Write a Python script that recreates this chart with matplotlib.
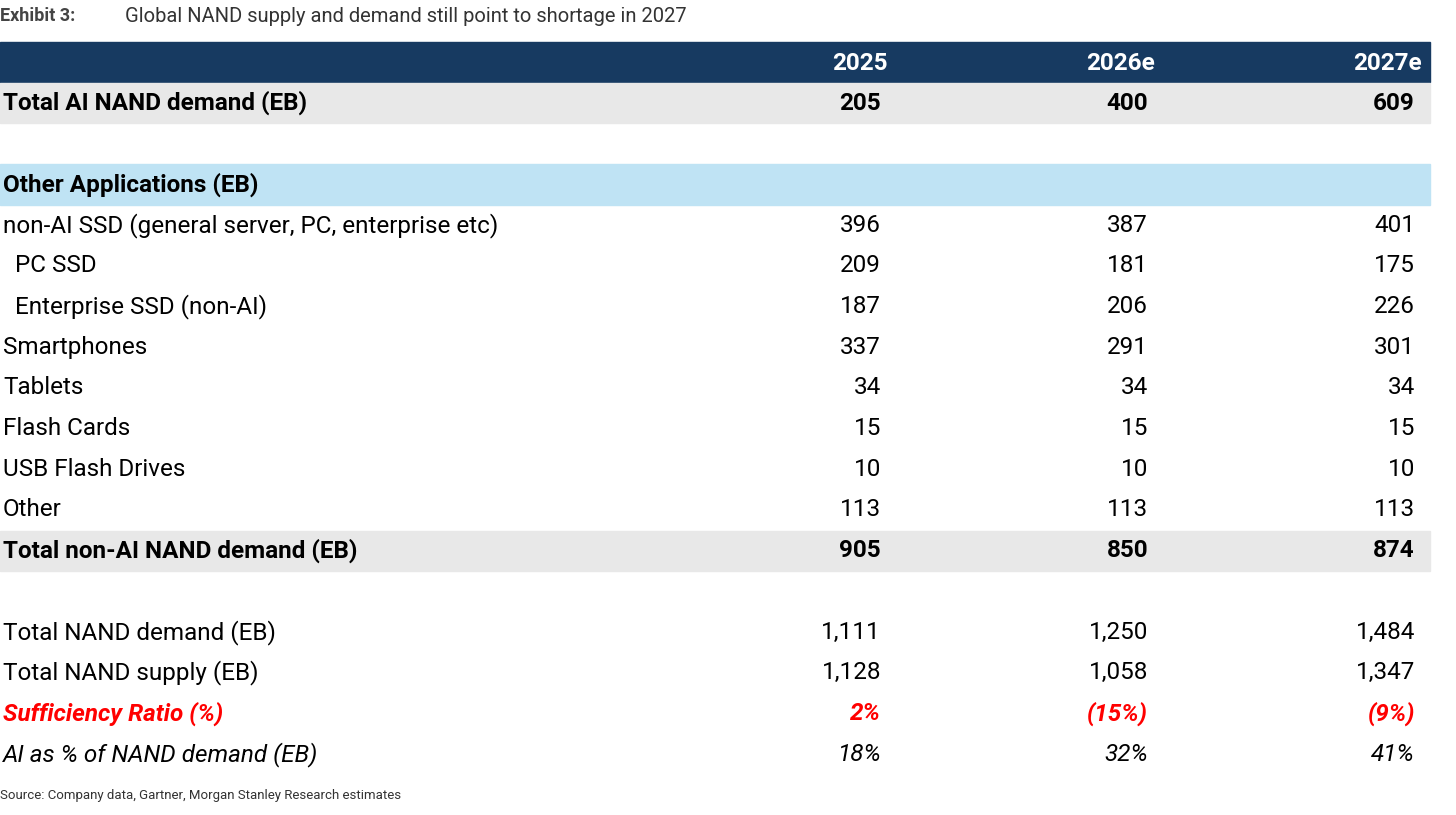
import matplotlib.pyplot as plt
from matplotlib.patches import Rectangle

plt.rcParams['font.family'] = ['Roboto', 'DejaVu Sans']

years = ["2025", "2026e", "2027e"]
labels = ["Total AI NAND demand (EB)", "", "Other Applications (EB)",
          "non-AI SSD (general server, PC, enterprise etc)", "  PC SSD",
          "  Enterprise SSD (non-AI)", "Smartphones", "Tablets", "Flash Cards",
          "USB Flash Drives", "Other", "Total non-AI NAND demand (EB)", "",
          "Total NAND demand (EB)", "Total NAND supply (EB)",
          "Sufficiency Ratio (%)", "AI as % of NAND demand (EB)"]
v2025 = ["205", "", "", "396", "209", "187", "337", "34", "15", "10", "113", "905", "",
         "1,111", "1,128", "2%", "18%"]
v2026 = ["400", "", "", "387", "181", "206", "291", "34", "15", "10", "113", "850", "",
         "1,250", "1,058", "(15%)", "32%"]
v2027 = ["609", "", "", "401", "175", "226", "301", "34", "15", "10", "113", "874", "",
         "1,484", "1,347", "(9%)", "41%"]
bold_rows = [0, 2, 11]
gray_rows = [0, 11]
blue_rows = [2]
red_rows = [15]
italic_rows = [15, 16]

fig = plt.figure(figsize=(14.56, 8.15), dpi=100)
ax = fig.add_axes([0, 0, 1, 1])
ax.set_xlim(0, 1456)
ax.set_ylim(815, 0)
ax.axis('off')

fs = 17.5
ax.text(0, 16, "Exhibit 3:", fontsize=13, fontweight='bold', color='#444444', va='center')
ax.text(125, 16, "Global NAND supply and demand still point to shortage in 2027",
        fontsize=14.5, color='#333333', va='center')

# header
ax.add_patch(Rectangle((0, 42), 1430, 40, color='#173a61'))
col_x = [888, 1155, 1422]
for x, y in zip(col_x, years):
    ax.text(x, 63, y, fontsize=fs, fontweight='bold', color='white', ha='right', va='center')

row_h = 40.7
y0 = 103
for i, lab in enumerate(labels):
    yc = y0 + i * row_h
    if i in gray_rows:
        ax.add_patch(Rectangle((0, yc - 20), 1430, 40, color='#e8e8e8'))
    if i in blue_rows:
        ax.add_patch(Rectangle((0, yc - 20), 1430, 41, color='#bfe3f4'))
    weight = 'bold' if i in bold_rows or i in red_rows else 'normal'
    style = 'italic' if i in italic_rows else 'normal'
    color = '#ff0000' if i in red_rows else 'black'
    ax.text(3, yc, lab, fontsize=fs, fontweight=weight, fontstyle=style,
            color=color, va='center')
    for x, v in zip(col_x, (v2025[i], v2026[i], v2027[i])):
        ax.text(x - 7, yc, v, fontsize=fs, fontweight=weight, fontstyle=style,
                color=color, ha='right', va='center')

ax.text(0, 796, "Source: Company data, Gartner, Morgan Stanley Research estimates",
        fontsize=9.5, color='#333333', va='center')

fig.savefig("out.png", dpi=100)
